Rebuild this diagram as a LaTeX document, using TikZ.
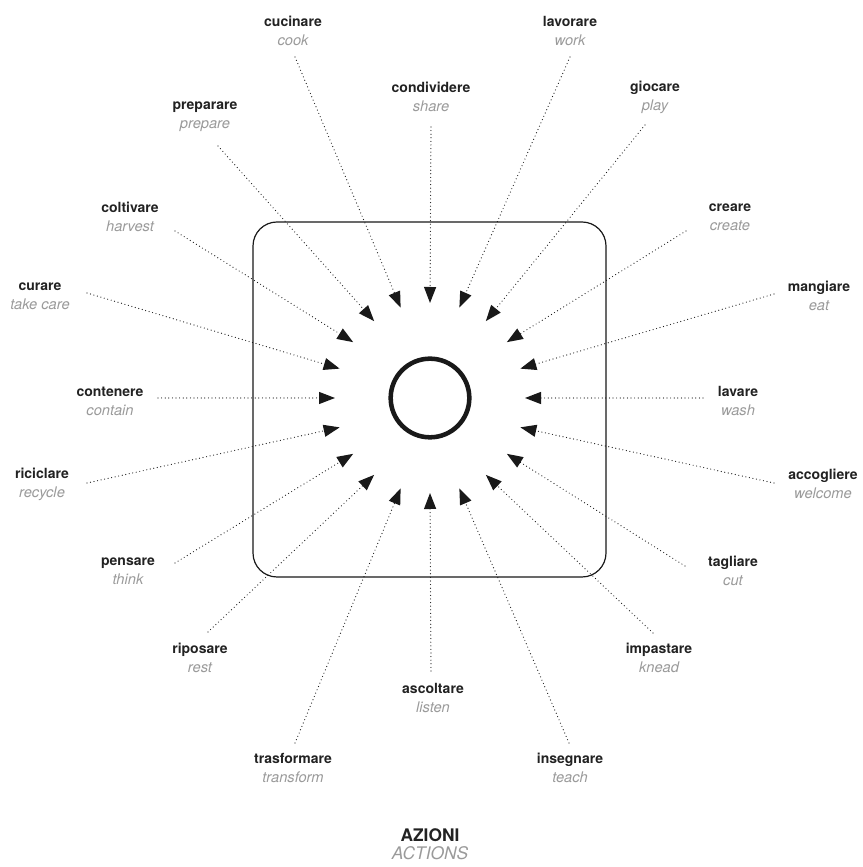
\documentclass[tikz,border=0pt]{standalone}
\usepackage{fontspec}
\setmainfont{TeX Gyre Heros}
\usepackage{xcolor}
\usetikzlibrary{arrows.meta}

\definecolor{namegray}{HTML}{222222}
\definecolor{transgray}{HTML}{9A9A9A}
\newcommand{\verbo}[1]{{\fontsize{10.5}{14.25}\selectfont\bfseries\color{namegray}#1}}
\newcommand{\trad}[1]{{\fontsize{11}{14.25}\selectfont\itshape\color{transgray}#1}}

\begin{document}
\begin{tikzpicture}[x=0.75pt, y=0.75pt,
  act/.style={align=center, inner sep=0pt, font=\fontsize{11}{14.25}\selectfont},
  arr/.style={black!90, line width=0.9pt, line cap=round, dash pattern=on 0pt off 2.7pt,
    -{Triangle[length=12pt, width=9pt]}}]
\useasboundingbox (0,0) rectangle (863,867);

% centre
\node[draw=black!90, line width=0.9pt, rounded corners=18pt, minimum width=264.75pt,
  minimum height=266.25pt, inner sep=0pt] (frame) at (429.5,467.5) {};
\node[circle, draw=black!90, line width=3.4pt, minimum size=59pt, inner sep=0pt] (ring) at (430,469) {};

% labels
\node[act] (cucinare) at (293,836) {\verbo{cucinare}\\\trad{cook}};
\node[act] (condividere) at (431,770) {\verbo{condividere}\\\trad{share}};
\node[act] (lavorare) at (570,836) {\verbo{lavorare}\\\trad{work}};
\node[act] (preparare) at (205,750) {\verbo{preparare}\\\trad{prepare}};
\node[act] (giocare) at (655,770) {\verbo{giocare}\\\trad{play}};
\node[act] (coltivare) at (130,650) {\verbo{coltivare}\\\trad{harvest}};
\node[act] (creare) at (730,650) {\verbo{creare}\\\trad{create}};
\node[act] (curare) at (40,571) {\verbo{curare}\\\trad{take care}};
\node[act] (mangiare) at (819,571) {\verbo{mangiare}\\\trad{eat}};
\node[act] (contenere) at (110,466) {\verbo{contenere}\\\trad{contain}};
\node[act] (lavare) at (738,466) {\verbo{lavare}\\\trad{wash}};
\node[act] (riciclare) at (42,383) {\verbo{riciclare}\\\trad{recycle}};
\node[act] (accogliere) at (823,383) {\verbo{accogliere}\\\trad{welcome}};
\node[act] (pensare) at (128,296) {\verbo{pensare}\\\trad{think}};
\node[act] (tagliare) at (733,296) {\verbo{tagliare}\\\trad{cut}};
\node[act] (riposare) at (200,209) {\verbo{riposare}\\\trad{rest}};
\node[act] (impastare) at (659,209) {\verbo{impastare}\\\trad{knead}};
\node[act] (ascoltare) at (433,169) {\verbo{ascoltare}\\\trad{listen}};
\node[act] (trasformare) at (293,99) {\verbo{trasformare}\\\trad{transform}};
\node[act] (insegnare) at (570,99) {\verbo{insegnare}\\\trad{teach}};
\node[align=center, inner sep=0pt, font=\fontsize{13}{13.5}\selectfont] (titolo) at (430,23)
  {{\bfseries\color{namegray}AZIONI}\\{\itshape\color{transgray}ACTIONS}};

% where the dotted lines start
\coordinate (cucinare-start) at (295,810);
\coordinate (condividere-start) at (431,740);
\coordinate (lavorare-start) at (570,810);
\coordinate (preparare-start) at (218,721);
\coordinate (giocare-start) at (645,742);
\coordinate (coltivare-start) at (175,636);
\coordinate (creare-start) at (686,636);
\coordinate (curare-start) at (87,574);
\coordinate (mangiare-start) at (774,573);
\coordinate (contenere-start) at (158,469);
\coordinate (lavare-start) at (703,469);
\coordinate (riciclare-start) at (87,384);
\coordinate (accogliere-start) at (774,384);
\coordinate (pensare-start) at (175,304);
\coordinate (tagliare-start) at (685,301);
\coordinate (riposare-start) at (208,235);
\coordinate (impastare-start) at (653,234);
\coordinate (ascoltare-start) at (431,196);
\coordinate (trasformare-start) at (295,124);
\coordinate (insegnare-start) at (569,124);

% arrow tips round the ring, every 18 degrees
\foreach \w/\ang in {condividere/90, lavorare/72, giocare/54, creare/36, mangiare/18,
  lavare/0, accogliere/-18, tagliare/-36, impastare/-54, insegnare/-72, ascoltare/-90,
  trasformare/-108, riposare/-126, pensare/-144, riciclare/-162, contenere/180,
  curare/162, coltivare/144, preparare/126, cucinare/108}
{
  \path (ring.center) ++(\ang:95) coordinate (\w-tip);
  \draw[arr] (\w-start) -- (\w-tip);
}
\end{tikzpicture}
\end{document}
